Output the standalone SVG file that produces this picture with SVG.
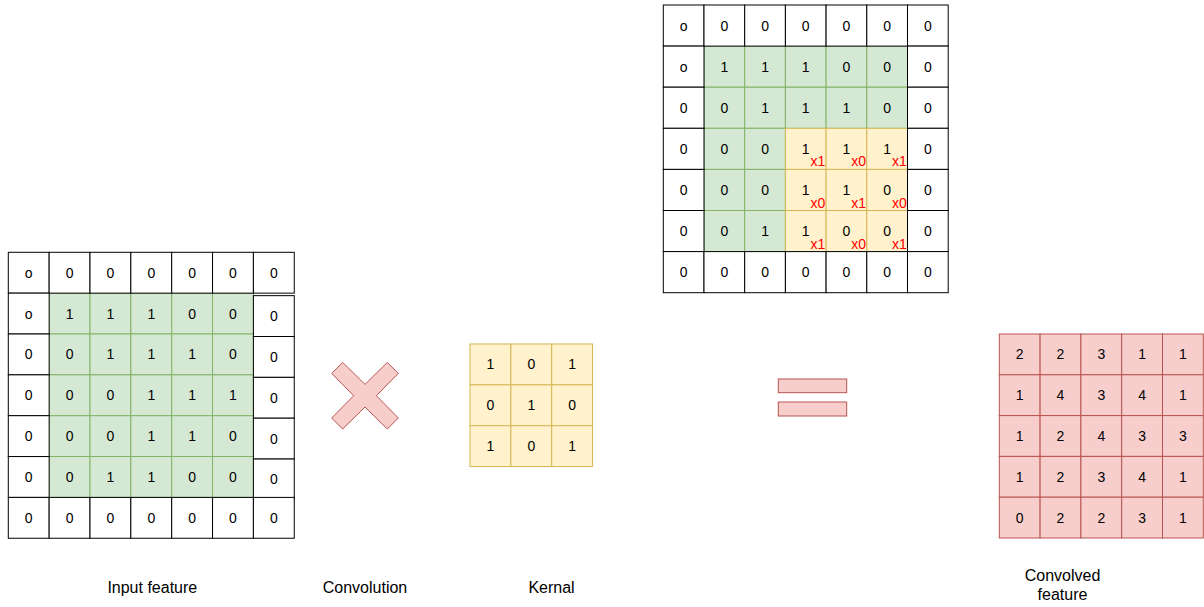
<svg xmlns="http://www.w3.org/2000/svg" width="1204" height="607" viewBox="0 0 1204 607">
<style>
.w{fill:#ffffff;stroke:#000000;stroke-width:1}
.g{fill:#d5e8d4;stroke:#82b366;stroke-width:1}
.y{fill:#fff2cc;stroke:#d6b656;stroke-width:1}
.r{fill:#f8cecc;stroke:#b85450;stroke-width:1}
.t{font-family:"Liberation Sans",Arial,Helvetica,sans-serif;font-size:14px;text-anchor:middle;fill:#000000}
.x{fill:#ff0000;text-anchor:end}
.lbl{font-size:16px}
</style>
<rect width="1204" height="607" fill="#ffffff"/>

<!-- Input feature grid -->
<g id="input-grid" transform="translate(8.3,252.3)">
  <g>
    <rect class="g" x="40.85" y="40.85" width="40.85" height="40.85"/><rect class="g" x="81.7" y="40.85" width="40.85" height="40.85"/><rect class="g" x="122.55" y="40.85" width="40.85" height="40.85"/><rect class="g" x="163.4" y="40.85" width="40.85" height="40.85"/><rect class="g" x="204.25" y="40.85" width="40.85" height="40.85"/>
    <rect class="g" x="40.85" y="81.7" width="40.85" height="40.85"/><rect class="g" x="81.7" y="81.7" width="40.85" height="40.85"/><rect class="g" x="122.55" y="81.7" width="40.85" height="40.85"/><rect class="g" x="163.4" y="81.7" width="40.85" height="40.85"/><rect class="g" x="204.25" y="81.7" width="40.85" height="40.85"/>
    <rect class="g" x="40.85" y="122.55" width="40.85" height="40.85"/><rect class="g" x="81.7" y="122.55" width="40.85" height="40.85"/><rect class="g" x="122.55" y="122.55" width="40.85" height="40.85"/><rect class="g" x="163.4" y="122.55" width="40.85" height="40.85"/><rect class="g" x="204.25" y="122.55" width="40.85" height="40.85"/>
    <rect class="g" x="40.85" y="163.4" width="40.85" height="40.85"/><rect class="g" x="81.7" y="163.4" width="40.85" height="40.85"/><rect class="g" x="122.55" y="163.4" width="40.85" height="40.85"/><rect class="g" x="163.4" y="163.4" width="40.85" height="40.85"/><rect class="g" x="204.25" y="163.4" width="40.85" height="40.85"/>
    <rect class="g" x="40.85" y="204.25" width="40.85" height="40.85"/><rect class="g" x="81.7" y="204.25" width="40.85" height="40.85"/><rect class="g" x="122.55" y="204.25" width="40.85" height="40.85"/><rect class="g" x="163.4" y="204.25" width="40.85" height="40.85"/><rect class="g" x="204.25" y="204.25" width="40.85" height="40.85"/>
  </g>
  <g>
    <rect class="w" x="0" y="0" width="40.85" height="40.85"/><rect class="w" x="40.85" y="0" width="40.85" height="40.85"/><rect class="w" x="81.7" y="0" width="40.85" height="40.85"/><rect class="w" x="122.55" y="0" width="40.85" height="40.85"/><rect class="w" x="163.4" y="0" width="40.85" height="40.85"/><rect class="w" x="204.25" y="0" width="40.85" height="40.85"/><rect class="w" x="245.1" y="0" width="40.85" height="40.85"/>
    <rect class="w" x="0" y="40.85" width="40.85" height="40.85"/><rect class="w" x="0" y="81.7" width="40.85" height="40.85"/><rect class="w" x="0" y="122.55" width="40.85" height="40.85"/><rect class="w" x="0" y="163.4" width="40.85" height="40.85"/><rect class="w" x="0" y="204.25" width="40.85" height="40.85"/>
    <rect class="w" x="245.1" y="43.35" width="40.85" height="40.85"/><rect class="w" x="245.1" y="84.2" width="40.85" height="40.85"/><rect class="w" x="245.1" y="125.05" width="40.85" height="40.85"/><rect class="w" x="245.1" y="165.9" width="40.85" height="40.85"/><rect class="w" x="245.1" y="206.75" width="40.85" height="40.85"/>
    <rect class="w" x="0" y="245.1" width="40.85" height="40.85"/><rect class="w" x="40.85" y="245.1" width="40.85" height="40.85"/><rect class="w" x="81.7" y="245.1" width="40.85" height="40.85"/><rect class="w" x="122.55" y="245.1" width="40.85" height="40.85"/><rect class="w" x="163.4" y="245.1" width="40.85" height="40.85"/><rect class="w" x="204.25" y="245.1" width="40.85" height="40.85"/><rect class="w" x="245.1" y="245.1" width="40.85" height="40.85"/>
  </g>
  <g class="t">
    <text x="20.43 61.28 102.13 142.98 183.83 224.68 265.53" y="25.43">o000000</text>
    <text x="20.43 61.28 102.13 142.98 183.83 224.68" y="66.28">o11100</text>
    <text x="20.43 61.28 102.13 142.98 183.83 224.68" y="107.13">001110</text>
    <text x="20.43 61.28 102.13 142.98 183.83 224.68" y="147.98">000111</text>
    <text x="20.43 61.28 102.13 142.98 183.83 224.68" y="188.83">000110</text>
    <text x="20.43 61.28 102.13 142.98 183.83 224.68" y="229.68">001100</text>
    <text x="265.53" y="68.78">0</text><text x="265.53" y="109.63">0</text><text x="265.53" y="150.48">0</text><text x="265.53" y="191.33">0</text><text x="265.53" y="232.18">0</text>
    <text x="20.43 61.28 102.13 142.98 183.83 224.68 265.53" y="270.53">0000000</text>
  </g>
</g>

<!-- Padded input with kernel window -->
<g id="window-grid" transform="translate(663.3,5)">
  <g>
    <rect class="g" x="40.7" y="41.1" width="40.7" height="41.1"/><rect class="g" x="81.4" y="41.1" width="40.7" height="41.1"/><rect class="g" x="122.1" y="41.1" width="40.7" height="41.1"/><rect class="g" x="162.8" y="41.1" width="40.7" height="41.1"/><rect class="g" x="203.5" y="41.1" width="40.7" height="41.1"/>
    <rect class="g" x="40.7" y="82.2" width="40.7" height="41.1"/><rect class="g" x="81.4" y="82.2" width="40.7" height="41.1"/><rect class="g" x="122.1" y="82.2" width="40.7" height="41.1"/><rect class="g" x="162.8" y="82.2" width="40.7" height="41.1"/><rect class="g" x="203.5" y="82.2" width="40.7" height="41.1"/>
    <rect class="g" x="40.7" y="123.3" width="40.7" height="41.1"/><rect class="g" x="81.4" y="123.3" width="40.7" height="41.1"/>
    <rect class="g" x="40.7" y="164.4" width="40.7" height="41.1"/><rect class="g" x="81.4" y="164.4" width="40.7" height="41.1"/>
    <rect class="g" x="40.7" y="205.5" width="40.7" height="41.1"/><rect class="g" x="81.4" y="205.5" width="40.7" height="41.1"/>
  </g>
  <g>
    <rect class="y" x="122.1" y="123.3" width="40.7" height="41.1"/><rect class="y" x="162.8" y="123.3" width="40.7" height="41.1"/><rect class="y" x="203.5" y="123.3" width="40.7" height="41.1"/>
    <rect class="y" x="122.1" y="164.4" width="40.7" height="41.1"/><rect class="y" x="162.8" y="164.4" width="40.7" height="41.1"/><rect class="y" x="203.5" y="164.4" width="40.7" height="41.1"/>
    <rect class="y" x="122.1" y="205.5" width="40.7" height="41.1"/><rect class="y" x="162.8" y="205.5" width="40.7" height="41.1"/><rect class="y" x="203.5" y="205.5" width="40.7" height="41.1"/>
  </g>
  <g>
    <rect class="w" x="0" y="0" width="40.7" height="41.1"/><rect class="w" x="40.7" y="0" width="40.7" height="41.1"/><rect class="w" x="81.4" y="0" width="40.7" height="41.1"/><rect class="w" x="122.1" y="0" width="40.7" height="41.1"/><rect class="w" x="162.8" y="0" width="40.7" height="41.1"/><rect class="w" x="203.5" y="0" width="40.7" height="41.1"/><rect class="w" x="244.2" y="0" width="40.7" height="41.1"/>
    <rect class="w" x="0" y="41.1" width="40.7" height="41.1"/><rect class="w" x="0" y="82.2" width="40.7" height="41.1"/><rect class="w" x="0" y="123.3" width="40.7" height="41.1"/><rect class="w" x="0" y="164.4" width="40.7" height="41.1"/><rect class="w" x="0" y="205.5" width="40.7" height="41.1"/>
    <rect class="w" x="244.2" y="41.1" width="40.7" height="41.1"/><rect class="w" x="244.2" y="82.2" width="40.7" height="41.1"/><rect class="w" x="244.2" y="123.3" width="40.7" height="41.1"/><rect class="w" x="244.2" y="164.4" width="40.7" height="41.1"/><rect class="w" x="244.2" y="205.5" width="40.7" height="41.1"/>
    <rect class="w" x="0" y="246.6" width="40.7" height="41.1"/><rect class="w" x="40.7" y="246.6" width="40.7" height="41.1"/><rect class="w" x="81.4" y="246.6" width="40.7" height="41.1"/><rect class="w" x="122.1" y="246.6" width="40.7" height="41.1"/><rect class="w" x="162.8" y="246.6" width="40.7" height="41.1"/><rect class="w" x="203.5" y="246.6" width="40.7" height="41.1"/><rect class="w" x="244.2" y="246.6" width="40.7" height="41.1"/>
  </g>
  <g class="t">
    <text x="20.35 61.05 101.75 142.45 183.15 223.85 264.55" y="25.55">o000000</text>
    <text x="20.35 61.05 101.75 142.45 183.15 223.85 264.55" y="66.65">o111000</text>
    <text x="20.35 61.05 101.75 142.45 183.15 223.85 264.55" y="107.75">0011100</text>
    <text x="20.35 61.05 101.75" y="148.85">000</text>
    <text x="142.45" y="148.85">1</text><text x="183.15" y="148.85">1</text><text x="223.85" y="148.85">1</text>
    <text x="264.55" y="148.85">0</text>
    <text x="20.35 61.05 101.75" y="189.95">000</text>
    <text x="142.45" y="189.95">1</text><text x="183.15" y="189.95">1</text><text x="223.85" y="189.95">0</text>
    <text x="264.55" y="189.95">0</text>
    <text x="20.35 61.05 101.75" y="231.05">001</text>
    <text x="142.45" y="231.05">1</text><text x="183.15" y="231.05">0</text><text x="223.85" y="231.05">0</text>
    <text x="264.55" y="231.05">0</text>
    <text x="20.35 61.05 101.75 142.45 183.15 223.85 264.55" y="272.15">0000000</text>
  </g>
  <g class="t x">
    <text x="162" y="161.4">x1</text><text x="202.7" y="161.4">x0</text><text x="243.4" y="161.4">x1</text>
    <text x="162" y="202.5">x0</text><text x="202.7" y="202.5">x1</text><text x="243.4" y="202.5">x0</text>
    <text x="162" y="243.6">x1</text><text x="202.7" y="243.6">x0</text><text x="243.4" y="243.6">x1</text>
  </g>
</g>

<!-- Convolution operator -->
<g id="convolution-op">
  <polygon class="r" points="342.7,362.4 365,384.4 387.3,362.4 398.3,373.4 376.3,395.7 398.3,418 387.3,429 365,407 342.7,429 331.7,418 353.7,395.7 331.7,373.4"/>
</g>

<!-- Kernel -->
<g id="kernel" transform="translate(470,344)">
  <rect class="y" x="0" y="0" width="40.85" height="40.85"/><rect class="y" x="40.85" y="0" width="40.85" height="40.85"/><rect class="y" x="81.7" y="0" width="40.85" height="40.85"/>
  <rect class="y" x="0" y="40.85" width="40.85" height="40.85"/><rect class="y" x="40.85" y="40.85" width="40.85" height="40.85"/><rect class="y" x="81.7" y="40.85" width="40.85" height="40.85"/>
  <rect class="y" x="0" y="81.7" width="40.85" height="40.85"/><rect class="y" x="40.85" y="81.7" width="40.85" height="40.85"/><rect class="y" x="81.7" y="81.7" width="40.85" height="40.85"/>
  <g class="t">
    <text x="20.43 61.28 102.13" y="25.43">101</text>
    <text x="20.43 61.28 102.13" y="66.28">010</text>
    <text x="20.43 61.28 102.13" y="107.13">101</text>
  </g>
</g>

<!-- Equals operator -->
<g id="equals-op">
  <rect class="r" x="778.3" y="379" width="68.4" height="13.7"/>
  <rect class="r" x="778.3" y="402" width="68.4" height="14"/>
</g>

<!-- Convolved feature -->
<g id="output-grid" transform="translate(999.3,334)">
  <rect class="r" x="0" y="0" width="40.8" height="40.8"/><rect class="r" x="40.8" y="0" width="40.8" height="40.8"/><rect class="r" x="81.6" y="0" width="40.8" height="40.8"/><rect class="r" x="122.4" y="0" width="40.8" height="40.8"/><rect class="r" x="163.2" y="0" width="40.8" height="40.8"/>
  <rect class="r" x="0" y="40.8" width="40.8" height="40.8"/><rect class="r" x="40.8" y="40.8" width="40.8" height="40.8"/><rect class="r" x="81.6" y="40.8" width="40.8" height="40.8"/><rect class="r" x="122.4" y="40.8" width="40.8" height="40.8"/><rect class="r" x="163.2" y="40.8" width="40.8" height="40.8"/>
  <rect class="r" x="0" y="81.6" width="40.8" height="40.8"/><rect class="r" x="40.8" y="81.6" width="40.8" height="40.8"/><rect class="r" x="81.6" y="81.6" width="40.8" height="40.8"/><rect class="r" x="122.4" y="81.6" width="40.8" height="40.8"/><rect class="r" x="163.2" y="81.6" width="40.8" height="40.8"/>
  <rect class="r" x="0" y="122.4" width="40.8" height="40.8"/><rect class="r" x="40.8" y="122.4" width="40.8" height="40.8"/><rect class="r" x="81.6" y="122.4" width="40.8" height="40.8"/><rect class="r" x="122.4" y="122.4" width="40.8" height="40.8"/><rect class="r" x="163.2" y="122.4" width="40.8" height="40.8"/>
  <rect class="r" x="0" y="163.2" width="40.8" height="40.8"/><rect class="r" x="40.8" y="163.2" width="40.8" height="40.8"/><rect class="r" x="81.6" y="163.2" width="40.8" height="40.8"/><rect class="r" x="122.4" y="163.2" width="40.8" height="40.8"/><rect class="r" x="163.2" y="163.2" width="40.8" height="40.8"/>
  <g class="t">
    <text x="20.4 61.2 102 142.8 183.6" y="25.4">22311</text>
    <text x="20.4 61.2 102 142.8 183.6" y="66.2">14341</text>
    <text x="20.4 61.2 102 142.8 183.6" y="107">12433</text>
    <text x="20.4 61.2 102 142.8 183.6" y="147.8">12341</text>
    <text x="20.4 61.2 102 142.8 183.6" y="188.6">02231</text>
  </g>
</g>

<!-- Labels -->
<g id="labels" class="t lbl">
  <text x="152.3" y="593">Input feature</text>
  <text x="365" y="593">Convolution</text>
  <text x="551.5" y="593">Kernal</text>
  <text x="1062.5" y="581.3">Convolved</text>
  <text x="1062.5" y="599.5">feature</text>
</g>

<g id="connectors"></g>
</svg>
